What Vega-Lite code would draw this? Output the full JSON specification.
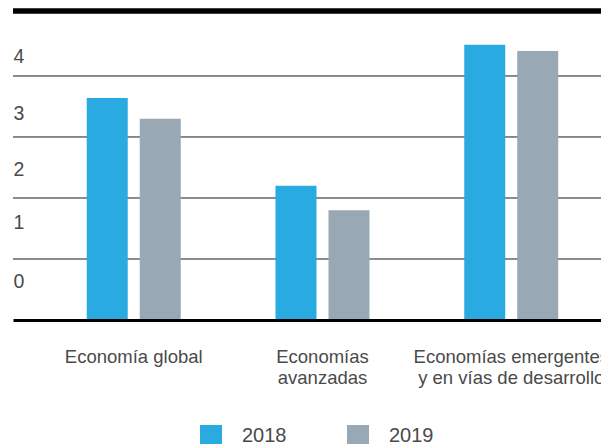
{
  "$schema": "https://vega.github.io/schema/vega-lite/v6.json",
  "width": 588,
  "height": 309,
  "autosize": {"type": "none"},
  "padding": {"left": 13, "top": 11, "right": 0, "bottom": 124},
  "background": "white",
  "config": {"view": {"stroke": null}, "font": "Liberation Sans"},
  "datasets": {
    "growth": [
      {"group": "Economía global", "year": "2018", "value": 3.64},
      {"group": "Economía global", "year": "2019", "value": 3.3},
      {"group": "Economías avanzadas", "year": "2018", "value": 2.2},
      {"group": "Economías avanzadas", "year": "2019", "value": 1.8},
      {"group": "Economías emergentes y en vías de desarrollo", "year": "2018", "value": 4.51},
      {"group": "Economías emergentes y en vías de desarrollo", "year": "2019", "value": 4.41}
    ],
    "gridlines": [{"level": 1}, {"level": 2}, {"level": 3}, {"level": 4}],
    "frame": [{"level": 5.065}]
  },
  "layer": [
    {
      "data": {"name": "gridlines"},
      "mark": {"type": "rule", "color": "#1a1a1a", "strokeWidth": 1},
      "encoding": {
        "y": {
          "field": "level", "type": "quantitative",
          "scale": {"domain": [0, 5.065], "nice": false, "zero": true},
          "axis": {
            "title": null, "values": [0.623, 1.59, 2.475, 3.393, 4.311],
            "labelExpr": "toString(floor(datum.value))",
            "grid": false, "ticks": false, "tickSize": 0, "domain": false,
            "labelAlign": "left", "labelBaseline": "middle", "labelPadding": 0,
            "labelFontSize": 19.5, "labelColor": "#4a4a4a",
            "labelFlush": false, "labelOverlap": false, "labelBound": false
          }
        }
      }
    },
    {
      "data": {"name": "growth"},
      "mark": {"type": "bar"},
      "encoding": {
        "x": {
          "field": "group", "type": "nominal", "sort": null,
          "scale": {"paddingInner": 0.502, "paddingOuter": 0.3086, "align": 0.633},
          "axis": {
            "title": null, "labelAngle": 0, "ticks": false, "tickSize": 0, "grid": false,
            "domainColor": "#000000", "domainWidth": 3, "zindex": 1,
            "labelFontSize": 18.5, "labelColor": "#4a4a4a", "labelPadding": 27,
            "labelLineHeight": 21, "labelLimit": 0, "labelOverlap": false, "labelBound": false, "labelFlush": false,
            "labelExpr": "datum.value == 'Economías avanzadas' ? ['Economías', 'avanzadas'] : datum.value == 'Economías emergentes y en vías de desarrollo' ? ['Economías emergentes', 'y en vías de desarrollo'] : datum.value"
          }
        },
        "xOffset": {"field": "year", "type": "nominal", "scale": {"paddingInner": 0.2264, "paddingOuter": 0}},
        "y": {
          "field": "value", "type": "quantitative",
          "scale": {"domain": [0, 5.065], "nice": false, "zero": true},
          "axis": {
            "title": null, "values": [0.623, 1.59, 2.475, 3.393, 4.311],
            "labelExpr": "toString(floor(datum.value))",
            "grid": false, "ticks": false, "tickSize": 0, "domain": false,
            "labelAlign": "left", "labelBaseline": "middle", "labelPadding": 0,
            "labelFontSize": 19.5, "labelColor": "#4a4a4a",
            "labelFlush": false, "labelOverlap": false, "labelBound": false
          }
        },
        "color": {
          "field": "year", "type": "nominal",
          "scale": {"domain": ["2018", "2019"], "range": ["#29aae1", "#98a8b4"]},
          "legend": {
            "title": null, "orient": "none", "legendX": 187, "legendY": 414,
            "direction": "horizontal", "symbolType": "square", "symbolSize": 484,
            "symbolStrokeWidth": 0, "symbolOpacity": 1, "labelFontSize": 20, "labelColor": "#4a4a4a",
            "labelOffset": 20, "columnPadding": 60, "padding": 0
          }
        }
      }
    },
    {
      "data": {"name": "frame"},
      "mark": {"type": "rule", "color": "#000000", "strokeWidth": 5.5},
      "encoding": {
        "y": {
          "field": "level", "type": "quantitative",
          "scale": {"domain": [0, 5.065], "nice": false, "zero": true},
          "axis": {
            "title": null, "values": [0.623, 1.59, 2.475, 3.393, 4.311],
            "labelExpr": "toString(floor(datum.value))",
            "grid": false, "ticks": false, "tickSize": 0, "domain": false,
            "labelAlign": "left", "labelBaseline": "middle", "labelPadding": 0,
            "labelFontSize": 19.5, "labelColor": "#4a4a4a",
            "labelFlush": false, "labelOverlap": false, "labelBound": false
          }
        }
      }
    }
  ]
}
